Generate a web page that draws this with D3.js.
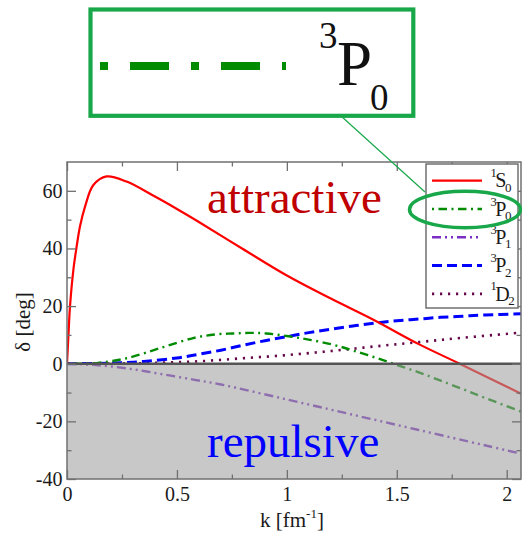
<!DOCTYPE html>
<html>
<head>
<meta charset="utf-8">
<script src="https://cdn.jsdelivr.net/npm/d3@7"></script>
<style>
  html, body { margin: 0; padding: 0; background: #fff; }
  svg { display: block; }
  svg text { font-family: "Liberation Serif", "Times New Roman", serif; }
</style>
</head>
<body>
<svg id="chart" width="522" height="534"></svg>
<script>
// Phase shifts δ (deg) versus momentum k (fm^-1) for each partial wave
const k1S0 = [0, 0.006, 0.0136, 0.029, 0.044, 0.059, 0.082, 0.12, 0.18, 0.271, 0.4, 0.5, 0.6, 0.8, 1.0, 1.2, 1.4, 1.6, 1.786, 2.065];
const d1S0 = [0, 9, 19.8, 32.6, 40.7, 47.6, 54.5, 62, 65, 63.2, 58.0, 53.7, 49.2, 39.8, 30.6, 22.6, 15.0, 6.8, 0, -10.4];

const k3P0 = [0, 0.1, 0.15, 0.271, 0.423, 0.574, 0.68, 0.756, 0.83, 0.907, 1.059, 1.21, 1.3, 1.4, 1.5, 1.6, 1.7, 1.8, 1.9, 2.065];
const d3P0 = [0, 0.1, 0.4, 1.9, 5.4, 8.9, 10.2, 10.5, 10.7, 10.5, 8.9, 6.6, 4.6, 2.2, -0.4, -3.0, -5.9, -8.8, -11.8, -16.6];

const k3P1 = [0, 0.12, 0.271, 0.423, 0.574, 0.7, 1.0, 1.3, 1.6, 1.9, 2.065];
const d3P1 = [0, -0.4, -1.6, -3.5, -5.5, -7.2, -12.4, -17.7, -23.0, -28.3, -31.2];

const k3P2 = [0, 0.2, 0.35, 0.5, 0.6, 0.7, 0.8, 0.9, 1.0, 1.1, 1.2, 1.3, 1.4, 1.5, 1.6, 1.7, 1.8, 1.9, 2.065];
const d3P2 = [0, 0.2, 0.8, 2.0, 3.3, 4.7, 6.4, 8.0, 9.4, 10.8, 12.0, 13.1, 14.1, 14.9, 15.5, 16.1, 16.5, 16.9, 17.3];

const k1D2 = [0, 0.2, 0.4, 0.6, 0.8, 1.0, 1.2, 1.4, 1.6, 1.8, 2.065];
const d1D2 = [0, 0.05, 0.3, 0.85, 1.9, 3.0, 4.4, 6.0, 7.5, 9.0, 10.8];

const waveNames = ["1S0", "3P0", "3P1", "3P2", "1D2"];
const waveLabels = [["1", "S", "0"], ["3", "P", "0"], ["3", "P", "1"], ["3", "P", "2"], ["1", "D", "2"]];

const xMajorTicks = [0, 0.5, 1, 1.5, 2];
const xMinorTicks = [0.25, 0.75, 1.25, 1.75];
const yMajorTicks = [-40, -20, 0, 20, 40, 60];
const yMinorTicks = [-30, -10, 10, 30, 50];

const kDomain = [0, 2.065];
const deltaDomain = [-40, 70];

// ---- drawing ----
const serif = "Liberation Serif, Times New Roman, serif";
const svg = d3.select("#chart");
const plot = { left: 67, right: 521, top: 162, bottom: 479 };

const x = d3.scaleLinear().domain(kDomain).range([plot.left, plot.right]);
const y = d3.scaleLinear().domain(deltaDomain).range([plot.bottom, plot.top]);

const styles = {
  "1S0": { color: "#ff0000", width: 2.2, dash: null },
  "3P0": { color: "#008b00", width: 2.4, dash: "2,4.5,8.5,4.5" },
  "3P1": { color: "#7a2fc2", width: 2.4, dash: "9,4,2,4,2,4" },
  "3P2": { color: "#0000ff", width: 3, dash: "10,5" },
  "1D2": { color: "#67074a", width: 2.6, dash: "2.2,5.8" }
};

const seriesK = { "1S0": k1S0, "3P0": k3P0, "3P1": k3P1, "3P2": k3P2, "1D2": k1D2 };
const seriesD = { "1S0": d1S0, "3P0": d3P0, "3P1": d3P1, "3P2": d3P2, "1D2": d1D2 };

svg.append("defs").append("clipPath").attr("id", "plotClip")
  .append("rect")
  .attr("x", plot.left).attr("y", plot.top)
  .attr("width", plot.right - plot.left).attr("height", plot.bottom - plot.top);

const line = d3.line()
  .x(d => x(d[0]))
  .y(d => y(d[1]))
  .curve(d3.curveCatmullRom.alpha(0.5));

const curves = svg.append("g").attr("clip-path", "url(#plotClip)");
// draw back-to-front so the red curve sits on top
["1D2", "3P2", "3P1", "3P0", "1S0"].forEach(name => {
  const pts = seriesK[name].map((k, i) => [k, seriesD[name][i]]);
  const s = styles[name];
  curves.append("path")
    .datum(pts)
    .attr("d", line)
    .attr("fill", "none")
    .attr("stroke", s.color)
    .attr("stroke-width", s.width)
    .attr("stroke-dasharray", s.dash);
});

// translucent grey shading for the repulsive (negative δ) region
svg.append("rect")
  .attr("x", plot.left).attr("y", y(0))
  .attr("width", plot.right - plot.left)
  .attr("height", y(-40) - y(0))
  .attr("fill", "#9e9e9e")
  .attr("fill-opacity", 0.57);

// zero line
svg.append("line")
  .attr("x1", plot.left).attr("x2", plot.right)
  .attr("y1", y(0)).attr("y2", y(0))
  .attr("stroke", "#555").attr("stroke-width", 2.6);

// axes with inward ticks on all four sides
const tickColor = "#707070";
function styleAxis(g) {
  g.attr("font-family", serif).attr("font-size", 20);
  g.select(".domain").remove();
  g.selectAll(".tick line").attr("stroke", tickColor).attr("stroke-width", 1.3);
  g.selectAll(".tick text").attr("fill", "#1a1a1a");
}
const plainNumber = d => String(d);

svg.append("g").attr("transform", `translate(0,${plot.bottom})`)
  .call(d3.axisBottom(x).tickValues(xMajorTicks).tickSize(-9).tickPadding(7.5).tickFormat(plainNumber))
  .call(styleAxis);
svg.append("g").attr("transform", `translate(0,${plot.bottom})`)
  .call(d3.axisBottom(x).tickValues(xMinorTicks).tickSize(-4.5).tickFormat(""))
  .call(styleAxis);
svg.append("g").attr("transform", `translate(0,${plot.top})`)
  .call(d3.axisTop(x).tickValues(xMajorTicks).tickSize(-9).tickFormat(""))
  .call(styleAxis);
svg.append("g").attr("transform", `translate(0,${plot.top})`)
  .call(d3.axisTop(x).tickValues(xMinorTicks).tickSize(-4.5).tickFormat(""))
  .call(styleAxis);

svg.append("g").attr("transform", `translate(${plot.left},0)`)
  .call(d3.axisLeft(y).tickValues(yMajorTicks).tickSize(-9).tickPadding(4.5).tickFormat(plainNumber))
  .call(styleAxis);
svg.append("g").attr("transform", `translate(${plot.left},0)`)
  .call(d3.axisLeft(y).tickValues(yMinorTicks).tickSize(-4.5).tickFormat(""))
  .call(styleAxis);
svg.append("g").attr("transform", `translate(${plot.right},0)`)
  .call(d3.axisRight(y).tickValues(yMajorTicks).tickSize(-9).tickFormat(""))
  .call(styleAxis);
svg.append("g").attr("transform", `translate(${plot.right},0)`)
  .call(d3.axisRight(y).tickValues(yMinorTicks).tickSize(-4.5).tickFormat(""))
  .call(styleAxis);

// plot frame
svg.append("rect")
  .attr("x", plot.left).attr("y", plot.top)
  .attr("width", plot.right - plot.left).attr("height", plot.bottom - plot.top)
  .attr("fill", "none").attr("stroke", tickColor).attr("stroke-width", 1.5);

// axis titles
const xTitle = svg.append("text")
  .attr("x", 260).attr("y", 526.5)
  .attr("font-family", serif).attr("font-size", 21)
  .attr("fill", "#1a1a1a");
xTitle.append("tspan").text("k [fm");
xTitle.append("tspan").attr("dy", -9).attr("font-size", 13).text("-1");
xTitle.append("tspan").attr("dy", 9).text("]");

svg.append("text")
  .attr("transform", "translate(30,322) rotate(-90)")
  .attr("text-anchor", "middle")
  .attr("font-family", serif).attr("font-size", 21)
  .attr("fill", "#1a1a1a")
  .text("δ [deg]");

// region annotations
svg.append("text")
  .attr("x", 207).attr("y", 212.7)
  .attr("font-family", serif).attr("font-size", 47)
  .attr("fill", "#c00000")
  .text("attractive");
svg.append("text")
  .attr("x", 207).attr("y", 457)
  .attr("font-family", serif).attr("font-size", 47)
  .attr("fill", "#0000ff")
  .text("repulsive");

// legend
const legend = svg.append("g");
legend.append("rect")
  .attr("x", 426).attr("y", 164).attr("width", 92).attr("height", 144)
  .attr("fill", "#fff").attr("stroke", tickColor).attr("stroke-width", 1.5);

waveNames.forEach((name, i) => {
  const ry = 180.7 + i * 28.3;
  const s = styles[name];
  legend.append("line")
    .attr("x1", 432).attr("x2", 482).attr("y1", ry).attr("y2", ry)
    .attr("stroke", s.color).attr("stroke-width", s.width)
    .attr("stroke-dasharray", s.dash);
  const [sup, main, sub] = waveLabels[i];
  const t = legend.append("text")
    .attr("x", 490.5).attr("y", ry - 3.5)
    .attr("font-family", serif).attr("fill", "#1a1a1a");
  t.append("tspan").attr("font-size", 12.5).text(sup);
  t.append("tspan").attr("font-size", 20).attr("dx", -1.5).attr("dy", 10.1).text(main);
  t.append("tspan").attr("font-size", 13).attr("dx", -1.5).attr("dy", 4.4).text(sub);
});

// magnified call-out of the 3P0 legend entry
const callGreen = "#18a84a";
svg.append("line")
  .attr("x1", 341).attr("y1", 116).attr("x2", 425).attr("y2", 192)
  .attr("stroke", callGreen).attr("stroke-width", 1.2);
svg.append("ellipse")
  .attr("cx", 465).attr("cy", 209.5).attr("rx", 55.5).attr("ry", 18.3)
  .attr("fill", "none").attr("stroke", callGreen).attr("stroke-width", 3.5);

const callout = svg.append("g");
callout.append("rect")
  .attr("x", 90.5).attr("y", 9.5).attr("width", 322.8).attr("height", 106.3)
  .attr("fill", "#fff").attr("stroke", callGreen).attr("stroke-width", 4.2);
callout.append("line")
  .attr("x1", 100).attr("x2", 286).attr("y1", 66).attr("y2", 66)
  .attr("stroke", styles["3P0"].color).attr("stroke-width", 8)
  .attr("stroke-dasharray", "8,22,39,22");
const big = callout.append("text")
  .attr("x", 319).attr("y", 48)
  .attr("font-family", serif).attr("fill", "#111");
big.append("tspan").attr("font-size", 37).text(waveLabels[1][0]);
big.append("tspan").attr("font-size", 63).attr("dx", -0.5).attr("dy", 37).text(waveLabels[1][1]);
big.append("tspan").attr("font-size", 37).attr("dx", -2).attr("dy", 25).text(waveLabels[1][2]);
</script>
</body>
</html>
